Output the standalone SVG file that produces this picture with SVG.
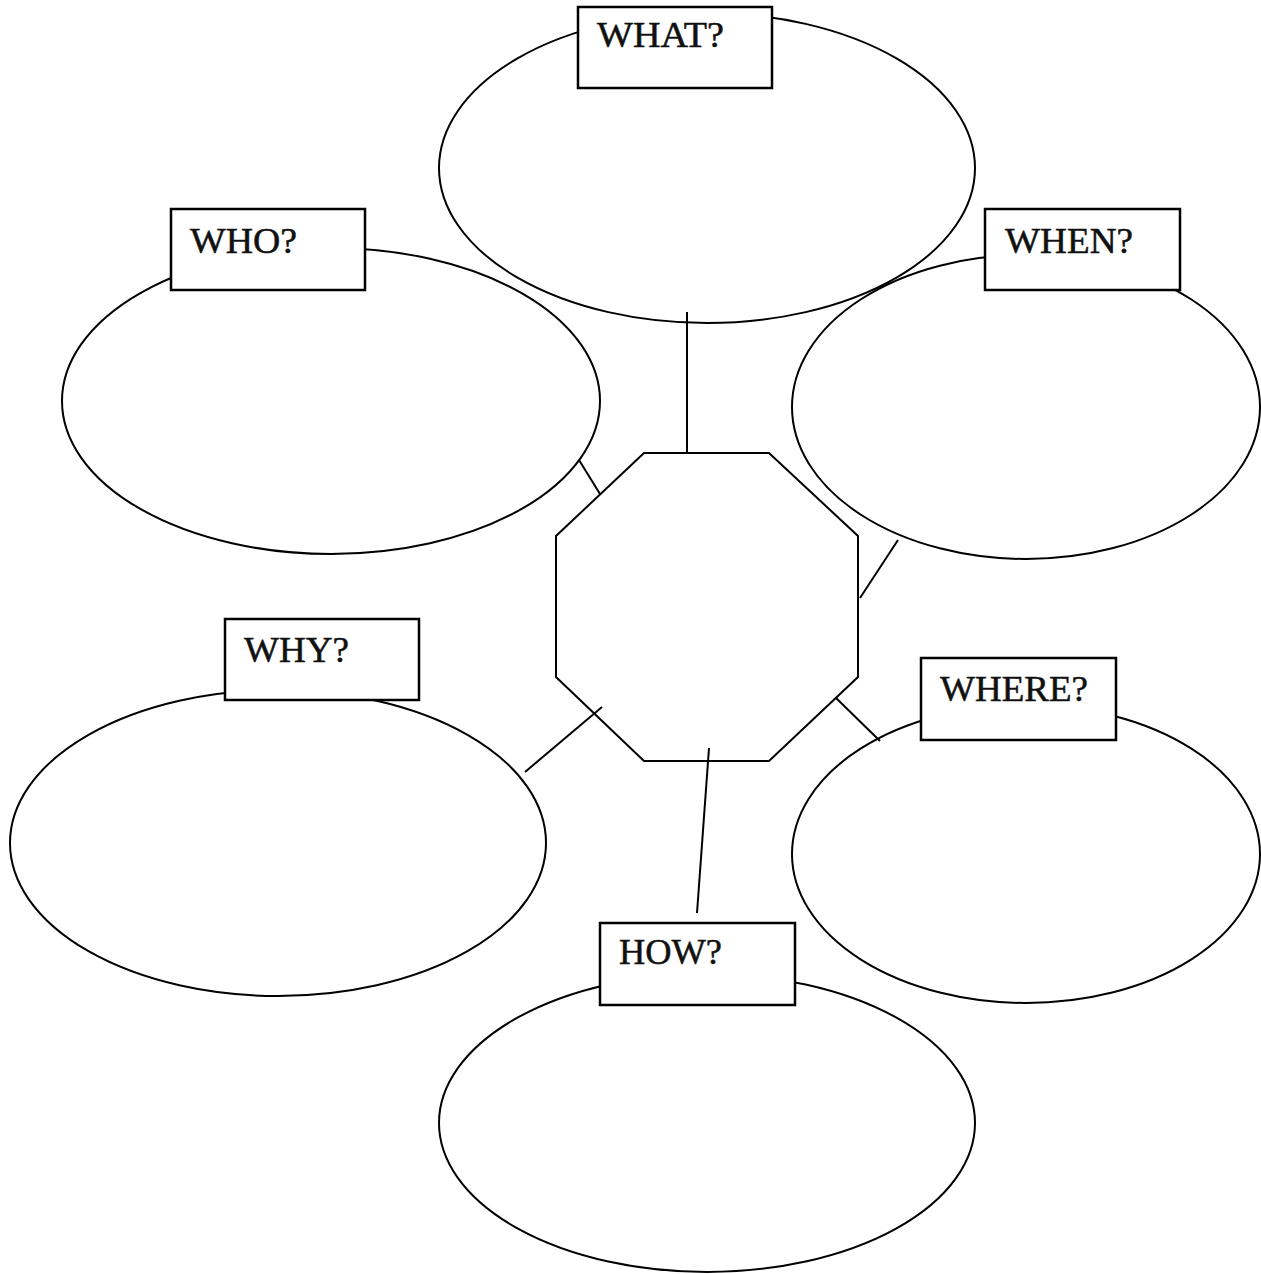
<svg xmlns="http://www.w3.org/2000/svg" width="1261" height="1274" viewBox="0 0 1261 1274">
<style>
.ell{fill:none;stroke:#000;stroke-width:2}
.box{fill:#fff;stroke:#000;stroke-width:2.5}
.lbl{font-family:"Liberation Serif","Times New Roman",serif;font-size:36px;fill:#111;stroke:#111;stroke-width:0.5}
.con{stroke:#000;stroke-width:2;fill:none}
</style>
<rect width="1261" height="1274" fill="#fff"/>
<g id="connectors">
<line class="con" x1="687" y1="312" x2="687" y2="453"/>
<line class="con" x1="579" y1="460" x2="600" y2="494"/>
<line class="con" x1="898" y1="540" x2="860" y2="598"/>
<line class="con" x1="836" y1="698" x2="880" y2="741"/>
<line class="con" x1="525" y1="772" x2="602" y2="707"/>
<line class="con" x1="709" y1="748" x2="697" y2="913"/>
</g>
<g id="center">
<polygon class="con" points="644,453 769,453 858,536 858,677 769,761 644,761 556,677 556,536"/>
</g>
<g id="what">
<ellipse class="ell" cx="707" cy="168" rx="268" ry="155"/>
<rect class="box" x="578" y="7" width="194" height="81"/>
<text class="lbl" x="597" y="47" textLength="127" lengthAdjust="spacingAndGlyphs">WHAT?</text>
</g>
<g id="who">
<ellipse class="ell" cx="331" cy="401" rx="269" ry="153"/>
<rect class="box" x="171" y="209" width="194" height="81"/>
<text class="lbl" x="190" y="253" textLength="107" lengthAdjust="spacingAndGlyphs">WHO?</text>
</g>
<g id="when">
<ellipse class="ell" cx="1026" cy="407" rx="234" ry="152"/>
<rect class="box" x="985" y="209" width="195" height="81"/>
<text class="lbl" x="1005" y="253" textLength="128" lengthAdjust="spacingAndGlyphs">WHEN?</text>
</g>
<g id="why">
<ellipse class="ell" cx="278" cy="843" rx="268" ry="153"/>
<rect class="box" x="225" y="619" width="194" height="81"/>
<text class="lbl" x="244" y="662" textLength="105" lengthAdjust="spacingAndGlyphs">WHY?</text>
</g>
<g id="where">
<ellipse class="ell" cx="1026" cy="854" rx="234" ry="149"/>
<rect class="box" x="921" y="658" width="195" height="82"/>
<text class="lbl" x="940" y="701" textLength="148" lengthAdjust="spacingAndGlyphs">WHERE?</text>
</g>
<g id="how">
<ellipse class="ell" cx="707" cy="1123" rx="268" ry="149"/>
<rect class="box" x="600" y="923" width="195" height="82"/>
<text class="lbl" x="619" y="964" textLength="103" lengthAdjust="spacingAndGlyphs">HOW?</text>
</g>
</svg>
